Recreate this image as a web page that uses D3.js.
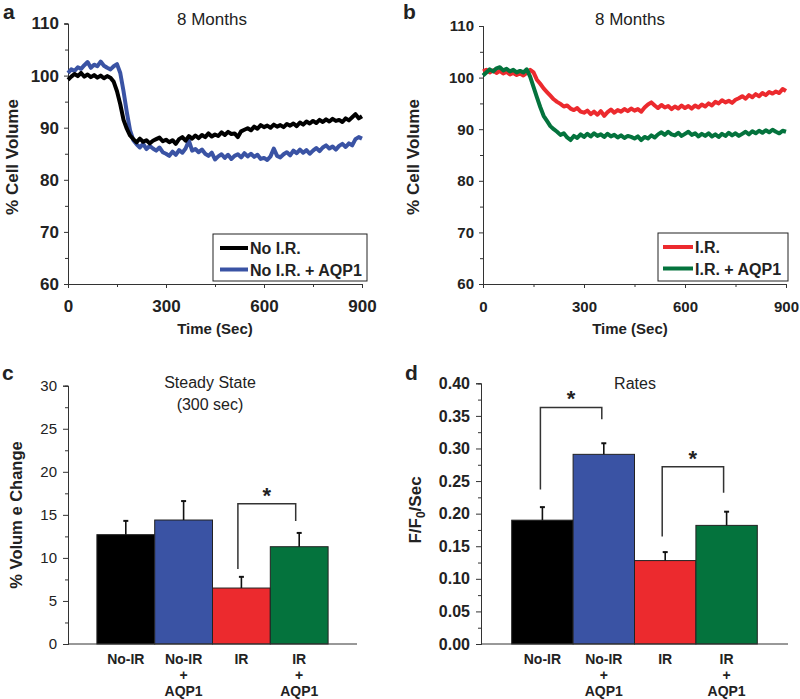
<!DOCTYPE html>
<html><head><meta charset="utf-8">
<script src="https://cdn.jsdelivr.net/npm/d3@7"></script>
<style>
body{margin:0;background:#fff;}
svg{display:block;}
text{font-family:"Liberation Sans",Arial,Helvetica,sans-serif;fill:#222;}
</style></head>
<body>
<svg id="c" width="800" height="699"></svg>
<script>
// ---------------- DATA ----------------
const timeStep = 10; // seconds between samples, 0..900
const noIR = [
 99.2,99.8,100.3,99.9,100.5,99.8,100.2,99.7,100.1,99.6,
 100.0,99.5,99.9,99.6,98.8,97.0,94.5,91.5,89.8,88.5,
 87.8,87.2,87.9,87.3,87.6,87.0,87.5,87.8,88.1,87.4,
 87.7,87.2,87.6,86.9,87.8,88.2,87.5,88.4,87.9,88.5,
 88.0,88.6,88.2,88.9,88.3,88.7,88.4,89.1,88.6,89.2,
 88.8,88.9,88.2,89.3,89.6,89.9,89.5,90.2,89.8,90.5,
 90.1,90.4,90.0,90.6,90.2,90.5,90.1,90.7,90.4,90.8,
 90.3,91.0,90.6,91.2,90.8,91.3,90.9,91.5,91.1,91.6,
 91.2,91.7,91.3,91.5,91.1,91.8,91.4,92.0,92.6,91.8,
 92.2];
const noIRAQP1 = [
 100.5,101.2,100.9,101.6,101.3,102.0,102.6,101.5,102.1,101.8,
 102.7,101.9,101.5,101.2,101.8,102.2,100.5,97.0,93.0,89.5,
 87.6,86.8,86.2,86.9,85.9,86.5,86.0,85.6,86.2,85.3,
 85.0,84.6,85.4,84.8,85.7,85.2,86.0,87.5,85.6,85.9,
 85.3,85.8,85.0,84.6,85.2,83.9,84.5,84.9,84.2,84.8,
 84.0,84.6,84.9,84.3,85.1,84.5,85.0,84.4,84.8,84.0,
 84.2,83.8,84.5,86.0,84.6,84.3,84.9,85.3,84.7,85.6,
 85.1,85.8,85.2,85.7,85.0,85.6,86.1,85.5,86.2,86.6,
 86.0,86.4,85.8,86.5,86.9,86.3,87.0,86.6,87.8,88.2,
 87.9];
const IR = [
 101.2,101.5,101.0,101.4,100.9,101.3,100.8,101.1,100.6,100.9,
 100.5,100.8,100.4,100.9,101.5,101.0,99.6,98.8,97.9,97.2,
 96.5,95.8,95.3,94.9,94.4,94.6,94.0,93.7,94.1,93.4,
 93.2,93.6,92.9,93.4,92.8,93.5,92.6,93.3,93.8,93.2,
 93.7,93.4,93.9,93.5,94.0,93.6,93.9,93.4,94.2,94.8,
 95.2,94.6,94.1,94.7,94.2,94.5,93.9,94.4,94.0,94.6,
 94.1,94.5,94.0,94.6,94.2,94.8,94.4,95.0,94.6,95.3,
 95.0,95.6,95.2,95.5,95.1,95.7,96.0,96.4,95.9,96.6,
 96.2,96.8,96.4,97.0,96.6,97.2,96.9,97.3,97.0,97.8,
 97.4];
const IRAQP1 = [
 100.4,101.0,101.6,101.2,101.8,102.0,101.4,101.7,101.2,101.5,
 101.0,101.3,101.0,101.6,100.2,98.2,96.2,94.3,92.6,91.6,
 90.6,90.0,89.5,88.9,89.2,88.4,87.9,88.7,88.3,89.0,
 88.5,89.1,88.6,89.2,88.7,89.0,88.5,89.1,88.6,88.9,
 88.4,88.8,88.3,88.7,88.5,88.2,88.6,87.9,88.5,88.2,
 88.8,88.4,89.0,89.4,88.9,89.5,89.0,88.8,89.3,88.7,
 89.1,89.5,88.9,89.2,88.6,89.1,88.7,89.2,88.6,89.0,
 88.5,89.1,88.7,89.3,88.8,89.2,88.7,89.1,89.5,89.0,
 89.6,89.2,89.7,89.3,89.8,89.4,89.9,89.5,89.2,89.7,
 89.5];

const barCategories = [["No-IR"],["No-IR","+","AQP1"],["IR"],["IR","+","AQP1"]];
const steadyValues = [12.7, 14.4, 6.5, 11.3];
const steadyErrors = [1.6, 2.2, 1.3, 1.6];
const rateValues = [0.190, 0.291, 0.128, 0.182];
const rateErrors = [0.020, 0.017, 0.013, 0.021];

const volumeTicks = [60,70,80,90,100,110];
const timeTicks = [0,300,600,900];
const steadyTicks = [0,5,10,15,20,25,30];
const rateTicks = [0,0.05,0.10,0.15,0.20,0.25,0.30,0.35,0.40];

const colBlack = "#000000", colBlue = "#3a53a4", colRed = "#ec2a2e", colGreen = "#04733d";
const barColors = [colBlack, colBlue, colRed, colGreen];

// ---------------- DRAW ----------------
const svg = d3.select("#c");
const axisColor = "#333";

function styleAxis(g){
  g.select(".domain").attr("stroke", axisColor).attr("stroke-width",1);
  g.selectAll(".tick line").attr("stroke", axisColor);
  g.selectAll("text").attr("fill","#222");
}

function panelLabel(t,x,y){
  svg.append("text").attr("x",x).attr("y",y).attr("font-size",21).attr("font-weight","bold").attr("fill","#111").text(t);
}

function linePanel(opts){
  const {x0,x1,yTop,yBot,series,legendOrder,tickFont,title,titleX,legend,label,labelX,ylabX,ylabY,timeX} = opts;
  const x = d3.scaleLinear().domain([0,900]).range([x0,x1]);
  const y = d3.scaleLinear().domain([60,110]).range([yBot,yTop]);
  svg.append("g").attr("transform",`translate(${x0},0)`)
    .call(d3.axisLeft(y).tickValues(d3.range(65,110,10)).tickSize(3).tickFormat(""))
    .call(styleAxis);
  svg.append("g").attr("transform",`translate(0,${yBot})`)
    .call(d3.axisBottom(x).tickValues([150,450,750]).tickSize(3).tickFormat(""))
    .call(styleAxis);
  const ga = svg.append("g").attr("transform",`translate(${x0},0)`)
    .call(d3.axisLeft(y).tickValues(volumeTicks).tickSize(4).tickPadding(5).tickFormat(d3.format("d")))
    .call(styleAxis);
  ga.selectAll("text").attr("font-size",tickFont).attr("font-weight","bold");
  const gb = svg.append("g").attr("transform",`translate(0,${yBot})`)
    .call(d3.axisBottom(x).tickValues(timeTicks).tickSize(4).tickPadding(0).tickFormat(d3.format("d")))
    .call(styleAxis);
  gb.selectAll("text").attr("font-size",tickFont).attr("font-weight","bold").attr("dy",null).attr("y",28);

  const line = d3.line().x((d,i)=>x(i*timeStep)).y(d=>y(d));
  series.forEach(s=>{
    svg.append("path").datum(s.values).attr("d",line).attr("fill","none")
      .attr("stroke",s.color).attr("stroke-width",4).attr("stroke-linejoin","round");
  });
  svg.append("text").attr("x",titleX).attr("y",25).attr("text-anchor","middle").attr("font-size",17).text(title);
  svg.append("text").attr("x",timeX).attr("y",334).attr("text-anchor","middle").attr("font-size",15).attr("font-weight","bold").text("Time (Sec)");
  svg.append("text").attr("transform",`translate(${ylabX},${ylabY}) rotate(-90)`).attr("text-anchor","middle")
    .attr("font-size",17).attr("font-weight","bold").text("% Cell Volume");
  const L = legend;
  svg.append("rect").attr("x",L.x).attr("y",L.y).attr("width",L.w).attr("height",L.h)
    .attr("fill","#fff").attr("stroke","#222").attr("stroke-width",1);
  legendOrder.forEach((s,i)=>{
    const ry = L.y + 14 + i*21.5;
    svg.append("line").attr("x1",L.lx0).attr("x2",L.lx1).attr("y1",ry).attr("y2",ry).attr("stroke",s.color).attr("stroke-width",4);
    svg.append("text").attr("x",L.lx1+2).attr("y",ry+6).attr("font-size",16).attr("font-weight","bold").text(s.name);
  });
  panelLabel(label,labelX,19);
}

const sNoIR = {name:"No I.R.",values:noIR,color:colBlack};
const sNoIRA = {name:"No I.R. + AQP1",values:noIRAQP1,color:colBlue};
const sIR = {name:"I.R.",values:IR,color:colRed};
const sIRA = {name:"I.R. + AQP1",values:IRAQP1,color:colGreen};

linePanel({x0:68,x1:362,yTop:23.5,yBot:284,tickFont:17,
  series:[sNoIRA,sNoIR],legendOrder:[sNoIR,sNoIRA],
  title:"8 Months",titleX:212,legend:{x:213,y:234,w:154,h:47,lx0:220,lx1:248},label:"a",labelX:3,ylabX:18,ylabY:157,timeX:215});
linePanel({x0:483,x1:786,yTop:26,yBot:284,tickFont:15,
  series:[sIR,sIRA],legendOrder:[sIR,sIRA],
  title:"8 Months",titleX:630,legend:{x:658,y:233,w:130,h:48,lx0:663,lx1:693},label:"b",labelX:403,ylabX:419,ylabY:157,timeX:630});

function barPanel(opts){
  const {x0,x1,yTop,yBot,values,errors,ticks,minor,fmt,tickBold,tickFont,brackets,label,labelX} = opts;
  const x = d3.scaleBand().domain(d3.range(values.length)).range([x0,x1]).paddingInner(0).paddingOuter(0.5);
  const y = d3.scaleLinear().domain([ticks[0],ticks[ticks.length-1]]).range([yBot,yTop]);
  svg.append("g").attr("transform",`translate(${x0},0)`)
    .call(d3.axisLeft(y).tickValues(minor).tickSize(3).tickFormat(""))
    .call(styleAxis);
  const ga = svg.append("g").attr("transform",`translate(${x0},0)`)
    .call(d3.axisLeft(y).tickValues(ticks).tickSize(5).tickPadding(6).tickFormat(fmt))
    .call(styleAxis);
  ga.selectAll("text").attr("font-size",tickFont).attr("font-weight",tickBold?"bold":"normal");
  svg.append("g").selectAll("rect").data(values).join("rect")
    .attr("x",(d,i)=>x(i)).attr("width",x.bandwidth())
    .attr("y",d=>y(d)).attr("height",d=>yBot-y(d))
    .attr("fill",(d,i)=>barColors[i]).attr("stroke","#222").attr("stroke-width",1);
  values.forEach((v,i)=>{
    const cx = x(i)+x.bandwidth()/2;
    const top = y(v+errors[i]);
    svg.append("line").attr("x1",cx).attr("x2",cx).attr("y1",y(v)).attr("y2",top).attr("stroke","#111").attr("stroke-width",1.6);
    svg.append("line").attr("x1",cx-2.5).attr("x2",cx+2.5).attr("y1",top).attr("y2",top).attr("stroke","#111").attr("stroke-width",2);
  });
  svg.append("g").attr("transform",`translate(0,${yBot})`)
    .call(d3.axisBottom(x).tickSize(0).tickFormat(""))
    .call(g=>g.select(".domain").attr("stroke",axisColor).attr("stroke-width",1).attr("d",`M${x0},0H${x1}`));
  barCategories.forEach((lines,i)=>{
    const cx = x(i)+x.bandwidth()/2;
    const t = svg.append("text").attr("text-anchor","middle").attr("font-size",14).attr("font-weight","bold");
    lines.forEach((s,j)=>{
      t.append("tspan").attr("x",cx).attr("y",yBot+20+j*16).text(s);
    });
  });
  brackets.forEach(b=>{
    const xa = x(b.a)+x.bandwidth()/2 + b.dx, xb = x(b.b)+x.bandwidth()/2 + b.dx;
    svg.append("path").attr("d",`M${xa},${y(b.la)}V${y(b.top)}H${xb}V${y(b.lb)}`)
      .attr("fill","none").attr("stroke","#333").attr("stroke-width",1.5);
    svg.append("text").attr("x",(xa+xb)/2).attr("y",y(b.top)-1).attr("text-anchor","middle")
      .attr("font-size",22).attr("font-weight","bold").text("*");
  });
  panelLabel(label,labelX,380);
  return {x,y};
}

barPanel({x0:68,x1:357,yTop:385.7,yBot:644,values:steadyValues,errors:steadyErrors,
  ticks:steadyTicks,minor:d3.range(2.5,30,5),fmt:d3.format("d"),tickBold:false,tickFont:15,
  brackets:[{a:2,b:3,la:8.7,lb:14.3,top:16.3,dx:-3.5}],label:"c",labelX:2});
svg.append("text").attr("x",210).attr("y",388).attr("text-anchor","middle").attr("font-size",16).text("Steady State");
svg.append("text").attr("x",210).attr("y",410).attr("text-anchor","middle").attr("font-size",16).text("(300 sec)");
svg.append("text").attr("transform","translate(22,515) rotate(-90)").attr("text-anchor","middle")
  .attr("font-size",16.5).attr("font-weight","bold").text("% Volum e Change");

barPanel({x0:481,x1:788,yTop:383.3,yBot:644,values:rateValues,errors:rateErrors,
  ticks:rateTicks,minor:d3.range(0.025,0.4,0.05),fmt:d3.format(".2f"),tickBold:true,tickFont:16,
  brackets:[{a:0,b:1,la:0.237,lb:0.345,top:0.363,dx:-2},{a:2,b:3,la:0.165,lb:0.232,top:0.272,dx:-3}],label:"d",labelX:405});
svg.append("text").attr("x",635).attr("y",389).attr("text-anchor","middle").attr("font-size",16).text("Rates");
const yl = svg.append("text").attr("transform","translate(421,510) rotate(-90)").attr("text-anchor","middle")
  .attr("font-size",17).attr("font-weight","bold");
yl.append("tspan").text("F/F");
yl.append("tspan").attr("font-size",12).attr("dy",4).text("0");
yl.append("tspan").attr("dy",-4).text("/Sec");
</script>
</body></html>
